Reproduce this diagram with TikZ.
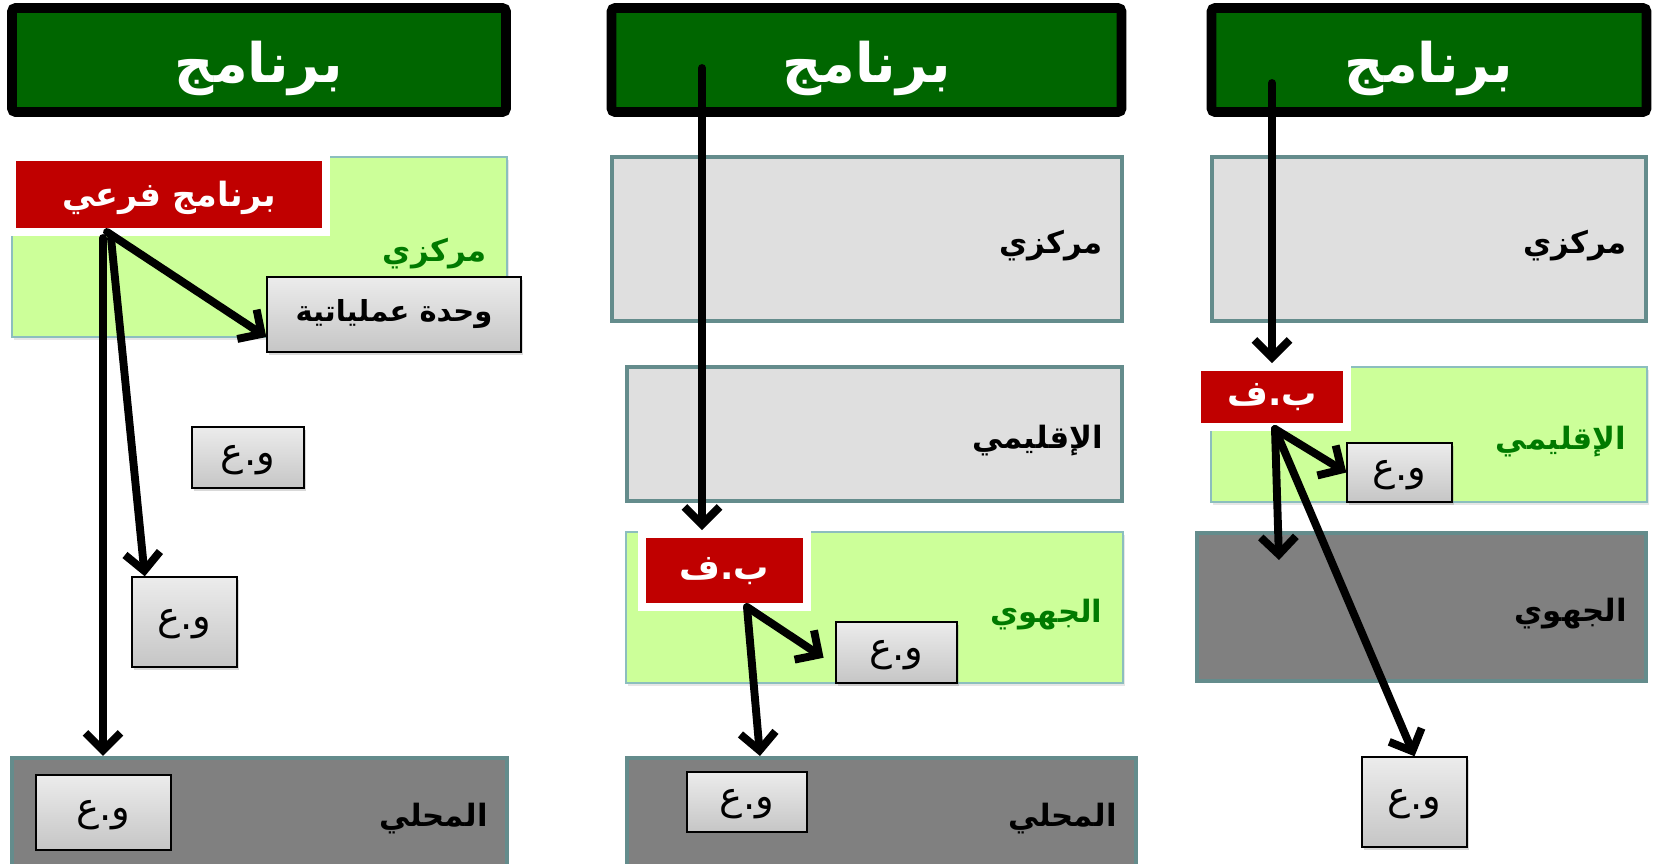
\documentclass[tikz,border=0pt]{standalone}
\usepackage{fontspec}
\newfontfamily\arabicfont[Script=Arabic]{DejaVu Sans}
\TeXXeTstate=1
\usetikzlibrary{positioning,fit,calc,arrows.meta,shadows}
\newcommand{\arb}[1]{\arabicfont\beginR #1\endR}

\definecolor{prgreen}{RGB}{0,102,0}
\definecolor{subred}{RGB}{192,0,0}
\definecolor{lvlgreen}{RGB}{204,255,153}
\definecolor{lvlgray}{RGB}{223,223,223}
\definecolor{lvldark}{RGB}{128,128,128}
\definecolor{lvledge}{RGB}{100,140,140}
\definecolor{lbgreen}{RGB}{0,122,0}
\definecolor{lgedge}{RGB}{140,190,190}

\tikzset{
  prog/.style={draw=black, line width=5.5pt, fill=prgreen, rounded corners=2pt, inner sep=0},
  prtxt/.style={inner sep=0, text=white, font=\fontsize{31}{36}\selectfont\bfseries, text height=28.5pt, text depth=3pt},
  sub/.style={draw=white, line width=4.5pt, fill=subred, inner sep=0, drop shadow={shadow xshift=1pt, shadow yshift=-1.5pt, opacity=0.3}},
  subtxt/.style={inner sep=0, text=white, font=\fontsize{20}{24}\selectfont\bfseries, text height=12pt, text depth=2pt},
  lvlgr/.style={draw=lgedge, line width=0.8pt, fill=lvlgreen, inner sep=0, drop shadow={shadow xshift=1pt, shadow yshift=-1.5pt, opacity=0.2}},
  lvlgy/.style={draw=lvledge, line width=2.3pt, fill=lvlgray, inner sep=0},
  lvldk/.style={draw=lvledge, line width=2.3pt, fill=lvldark, inner sep=0},
  unit/.style={draw=black, line width=0.8pt, top color=gray!15, bottom color=gray!45, inner sep=0, drop shadow={shadow xshift=1pt, shadow yshift=-1.5pt, opacity=0.3}},
  unittxt/.style={inner sep=0, font=\fontsize{22}{26}\selectfont, text height=11pt, text depth=2pt},
  lvltxt/.style={inner sep=0, font=\fontsize{17.5}{21}\selectfont\bfseries, text height=18.5pt, text depth=1.8pt},
  arr/.style={line width=4.5pt, line cap=round, line join=round, -{Straight Barb[length=10pt,width=20pt]}}
}

\begin{document}
\begin{tikzpicture}[x=0.02cm, y=-0.02cm]
\useasboundingbox (0,0) rectangle (1654,863);

% first column
\node (h1) [prog, fit={(12,8) (506,112)}, label={[prtxt]center:\arb{برنامج}}] {};
\node (m1) [lvlgr, fit={(12,157) (507,337)}] {};
\node (m1t) [lvltxt, text=lbgreen, left=12pt of m1.east] {\arb{مركزي}};
\node (l1) [lvldk, fit={(12,758) (507,866)}] {};
\node (l1t) [lvltxt, left=12pt of l1.east] {\arb{المحلي}};
\node (op) [unit, fit={(267,277) (521,352)}, label={[lvltxt, font=\fontsize{16.5}{20}\selectfont\bfseries, text height=10.1pt, text depth=1.7pt]center:{\arabicfont\beginR وحدة عملياتية\endR}}] {};
\node (b11) [unit, fit={(192,427) (304,488)}, label={[unittxt]center:\arb{و.ع}}] {};
\node (b12) [unit, fit={(132,577) (237,667)}, label={[unittxt]center:\arb{و.ع}}] {};
\node (b13) [unit, fit={(36,775) (171,850)}, label={[unittxt]center:\arb{و.ع}}] {};
\node (sub1) [sub, fit={(12,157.5) (326,232)}, label={[subtxt, font=\fontsize{19}{23}\selectfont\bfseries, text height=15.5pt]center:{\arabicfont\beginR برنامج فرعي\endR}}] {};

% second column
\node (h2) [prog, fit={(611.5,8) (1121.5,112)}, label={[prtxt]center:\arb{برنامج}}] {};
\node (m2) [lvlgy, fit={(612,157) (1122,321)}] {};
\node (m2t) [lvltxt, left=12pt of m2.east] {\arb{مركزي}};
\node (r2) [lvlgy, fit={(627,367) (1122,501)}] {};
\node (r2t) [lvltxt, left=12pt of r2.east] {\arb{الإقليمي}};
\node (j2) [lvlgr, fit={(626,532) (1123,683)}] {};
\node (j2t) [lvltxt, text=lbgreen, left=12pt of j2.east] {\arb{الجهوي}};
\node (l2) [lvldk, fit={(627,758) (1136,866)}] {};
\node (l2t) [lvltxt, left=12pt of l2.east] {\arb{المحلي}};
\node (b21) [unit, fit={(836,622) (957,683)}, label={[unittxt]center:\arb{و.ع}}] {};
\node (b22) [unit, fit={(687,772) (807,832)}, label={[unittxt]center:\arb{و.ع}}] {};
\node (sub2) [sub, fit={(642,534) (807,607)}, label={[subtxt]center:\arb{ب.ف}}] {};

% third column
\node (h3) [prog, fit={(1211.5,8) (1646.5,112)}, label={[prtxt]center:\arb{برنامج}}] {};
\node (m3) [lvlgy, fit={(1212,157) (1646,321)}] {};
\node (m3t) [lvltxt, left=12pt of m3.east] {\arb{مركزي}};
\node (r3) [lvlgr, fit={(1211,367) (1647,502)}] {};
\node (r3t) [lvltxt, text=lbgreen, left=12pt of r3.east] {\arb{الإقليمي}};
\node (j3) [lvldk, fit={(1197,533) (1646,681)}] {};
\node (j3t) [lvltxt, left=12pt of j3.east] {\arb{الجهوي}};
\node (b31) [unit, fit={(1347,443) (1452,502)}, label={[unittxt]center:\arb{و.ع}}] {};
\node (b32) [unit, fit={(1362,757) (1467,847)}, label={[unittxt]center:\arb{و.ع}}] {};
\node (sub3) [sub, fit={(1197,367) (1347,427)}, label={[subtxt]center:\arb{ب.ف}}] {};

% arrows
\coordinate (o1) at (107,232);
\coordinate (o2) at (103,238);
\coordinate (o3) at (111,238);
\draw[arr] (o1) -- (op.190);
\draw[arr] (o2) -- (o2 |- l1.north);
\draw[arr] (o3) -- (b12.131);

\coordinate (o4) at (702,68);
\coordinate (o5) at (747,607);
\draw[arr] (o4) -- (o4 |- sub2.north);
\draw[arr, shorten >=8pt] (o5) -- (b21.192);
\draw[arr] (o5) -- ($(l2.north west)+(135,0)$);

\coordinate (o7) at (1272,83);
\coordinate (o8) at (1275,429);
\coordinate (t9) at (1279,560);
\draw[arr] (o7) -- (o7 |- sub3.north);
\draw[arr] (o8) -- (b31.west);
\draw[arr] (o8) -- (t9);
\draw[arr] (o8) -- (b32.north);
\end{tikzpicture}
\end{document}
